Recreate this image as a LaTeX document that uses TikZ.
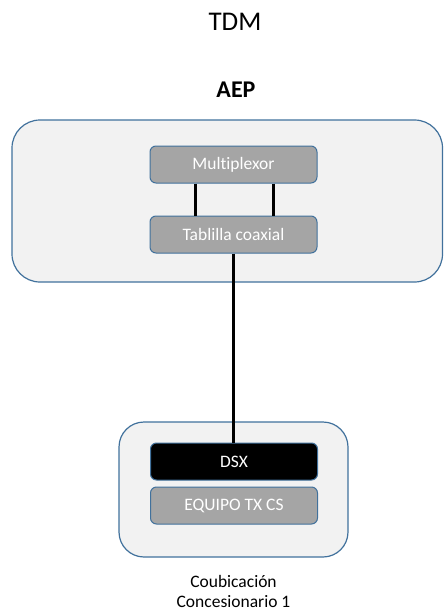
\documentclass[tikz,border=0pt]{standalone}
\usepackage{fontspec}
\setmainfont{Carlito}[Ligatures=NoCommon]
\definecolor{bordblue}{RGB}{65,113,156}
\definecolor{panel}{RGB}{242,242,242}
\definecolor{boxgray}{RGB}{165,165,165}
\begin{document}
\begin{tikzpicture}[x=1pt,y=-1pt,
  panelbox/.style={draw=bordblue,fill=panel,line width=1.2pt},
  unit/.style={draw=bordblue,fill=boxgray,line width=1pt,rounded corners=6pt,
    minimum width=167pt,minimum height=37pt,inner sep=0pt,text=white,font=\fontsize{17.5}{20}\selectfont},
  wire/.style={line width=3pt,black},
  captxt/.style={anchor=base,inner sep=0pt,font=\fontsize{17.5}{20}\selectfont}]
\useasboundingbox (0,0) rectangle (444,610);
% titles
\node (tdm) at (235,22) {\fontsize{27}{32}\selectfont TDM};
\node (aep) at (236,90) {\fontsize{24}{28}\selectfont\bfseries AEP};
% panels
\draw[panelbox,rounded corners=28pt] (12,120) rectangle (442.5,282);
\draw[panelbox,rounded corners=25pt] (119,422) rectangle (348,557);
% units
\node[unit] (mux) at (233.5,164.5) {Multiplexor};
\node[unit] (tab) at (233.5,234.5) {Tablilla coaxial};
\node[unit,fill=black,draw=bordblue] (dsx) at (234,461.5) {DSX};
\node[unit] (eq) at (234,505.5) {EQUIPO TX CS};
% connectors
\draw[wire] ([xshift=-38.5pt]mux.south) -- ([xshift=-38.5pt]tab.north);
\draw[wire] ([xshift=39.5pt]mux.south) -- ([xshift=39.5pt]tab.north);
\draw[wire] (tab.south) -- (tab.south |- dsx.north);
% caption
\node[captxt] (cap1) at (233.5,587.5) {Coubicación};
\node[captxt] (cap2) at (233.5,607) {Concesionario 1};
\end{tikzpicture}
\end{document}
